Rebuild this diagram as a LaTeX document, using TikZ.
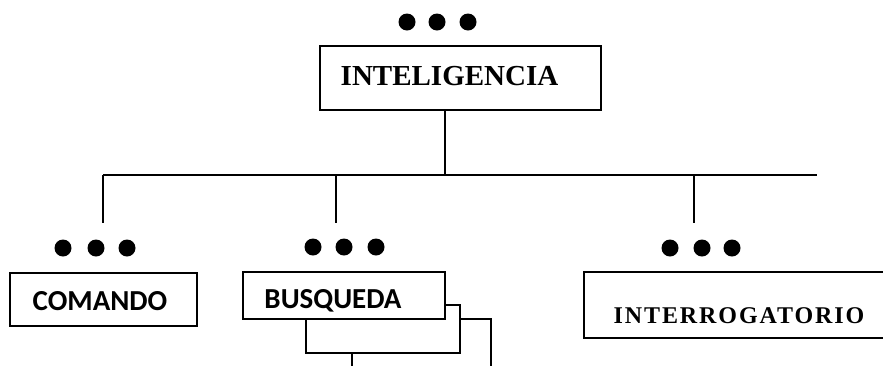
\documentclass[tikz,border=0pt]{standalone}
\usepackage{fontspec}
\setmainfont{Liberation Serif}
\newfontfamily\calfont{Carlito}
\begin{document}
\begin{tikzpicture}[x=1pt,y=-1pt,
  line width=1.3pt,
  boxnode/.style={draw, fill=white, inner sep=0pt},
  dotmark/.style={fill=black, circle, inner sep=0pt, minimum size=17pt},
  serifbold/.style={font=\fontsize{29}{30}\selectfont\bfseries},
  calbold/.style={font=\calfont\fontsize{29}{30}\selectfont\bfseries},
  lbl/.style={inner sep=0pt, anchor=center}]
\useasboundingbox (0,0) rectangle (883,365);
\clip (0,0) rectangle (883,365);
% top
\node[dotmark] (d1) at (407,22) {};
\node[dotmark] (d2) at (437,22) {};
\node[dotmark] (d3) at (468,22) {};
\node[boxnode, minimum width=281pt, minimum height=64pt] (intel) at (460.5,78) {};
\node[lbl, serifbold] (tintel) at (449.5,76) {INTELIGENCIA};
% bus
\coordinate (bs) at (445,110);
\coordinate (bj) at (445,175);
\coordinate (hl) at (103,175);
\coordinate (hr) at (817,175);
\coordinate (j2) at (336,175);
\coordinate (j3) at (694,175);
\coordinate (e1) at (103,223);
\coordinate (e2) at (336,223);
\coordinate (e3) at (694,223);
\draw (bs) -- (bj);
\draw (hl) -- (hr);
\draw (hl) -- (e1);
\draw (j2) -- (e2);
\draw (j3) -- (e3);
% comando
\node[dotmark] (c1) at (63,248) {};
\node[dotmark] (c2) at (96,248) {};
\node[dotmark] (c3) at (127,248) {};
\node[boxnode, minimum width=187pt, minimum height=53pt] (coman) at (103.5,299.5) {};
\node[lbl, calbold] (tcoman) at (100,301) {COMANDO};
% busqueda stack
\node[dotmark] (b1) at (313,247) {};
\node[dotmark] (b2) at (344,247) {};
\node[dotmark] (b3) at (376,247) {};
\coordinate (t3a) at (460,319);
\coordinate (t3b) at (491,319);
\coordinate (t3c) at (491,380);
\draw (t3a) -- (t3b) -- (t3c);
\node[boxnode, minimum width=154pt, minimum height=48pt] (busq2) at (383,329) {};
\node[boxnode, minimum width=202pt, minimum height=47pt] (busq) at (344,295.5) {};
\node[lbl, calbold] (tbusq) at (333,301) {BUSQUEDA};
\coordinate (bend) at (352,380);
\draw (busq2.south -| bend) -- (bend);
% interrogatorio
\node[dotmark] (i1) at (670,248) {};
\node[dotmark] (i2) at (702,248) {};
\node[dotmark] (i3) at (732,248) {};
\node[boxnode, minimum width=316pt, minimum height=66pt] (inter) at (742,305) {};
\node[lbl, font=\fontsize{24}{25}\selectfont\bfseries\addfontfeature{LetterSpace=8}] (tinter) at (739,316) {INTERROGATORIO};
\end{tikzpicture}
\end{document}
